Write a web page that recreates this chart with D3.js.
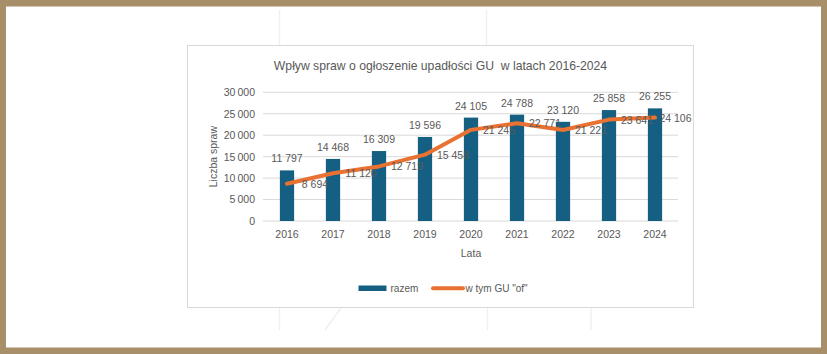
<!DOCTYPE html>
<html>
<head>
<meta charset="utf-8">
<script src="https://cdn.jsdelivr.net/npm/d3@7"></script>
<style>
  html, body { margin: 0; padding: 0; background: #a68f69; }
  svg { display: block; }
  text { font-family: "Liberation Sans", Arial, sans-serif; fill: #595959; }
</style>
</head>
<body>
<div id="chart"></div>
<script>
// Data
const years = ["2016", "2017", "2018", "2019", "2020", "2021", "2022", "2023", "2024"];
const razem = [11797, 14468, 16309, 19596, 24105, 24788, 23120, 25858, 26255];
const wTymGU = [8694, 11120, 12719, 15458, 21245, 22771, 21221, 23641, 24106];
const yTicks = [0, 5000, 10000, 15000, 20000, 25000, 30000];

const W = 827, H = 354;
const box = { x: 187.5, y: 45.5, w: 506, h: 262 };
const plot = { left: 264, right: 678, top: 92.3, bottom: 221 };

const pl = d3.formatLocale({ decimal: ",", thousands: "\u2009", grouping: [3], currency: ["", " zł"] });
const fmt = pl.format(",d");
const fmtLabel = d3.formatLocale({ decimal: ",", thousands: " ", grouping: [3], currency: ["", ""] }).format(",d");

const svg = d3.select("#chart").append("svg")
    .attr("width", W)
    .attr("height", H);

// white page inside the tan frame
svg.append("rect")
    .attr("x", 6).attr("y", 6.5)
    .attr("width", W - 12).attr("height", 341)
    .attr("fill", "#ffffff");

// faint lines of the slide behind the chart
const faint = svg.append("g").attr("stroke", "#f0f0f0").attr("stroke-width", 1.5).attr("fill", "none");
[[279.5, 10, 279.5, 45], [486.5, 10, 486.5, 45],
 [279.5, 307, 279.5, 330], [487.5, 307, 487.5, 330], [591, 307, 591, 330],
 [325, 330, 341, 308]].forEach(l => {
    faint.append("line").attr("x1", l[0]).attr("y1", l[1]).attr("x2", l[2]).attr("y2", l[3]);
});

// chart box
svg.append("rect")
    .attr("x", box.x).attr("y", box.y)
    .attr("width", box.w).attr("height", box.h)
    .attr("fill", "#ffffff")
    .attr("stroke", "#d9d9d9")
    .attr("stroke-width", 1);

const x = d3.scaleBand()
    .domain(years)
    .range([plot.left, plot.right])
    .paddingInner(0.69)
    .paddingOuter(0.345);

const y = d3.scaleLinear()
    .domain([0, 30000])
    .range([plot.bottom, plot.top]);

// gridlines
svg.append("g")
    .selectAll("line")
    .data(yTicks)
    .join("line")
    .attr("x1", plot.left - 1).attr("x2", plot.right)
    .attr("y1", d => y(d)).attr("y2", d => y(d))
    .attr("stroke", "#d9d9d9")
    .attr("stroke-width", 1);

// y axis labels
const yAxis = d3.axisLeft(y).tickValues(yTicks).tickFormat(fmt).tickSize(0).tickPadding(0);
const gy = svg.append("g")
    .attr("transform", `translate(${plot.left - 9},0)`)
    .call(yAxis);
gy.select(".domain").remove();
gy.selectAll("text")
    .attr("font-size", 10.5)
    .attr("font-family", "Liberation Sans, Arial, sans-serif")
    .attr("fill", "#595959");

// x axis labels
const xAxis = d3.axisBottom(x).tickSize(0).tickPadding(0);
const gx = svg.append("g")
    .attr("transform", `translate(0,${plot.bottom + 10})`)
    .call(xAxis);
gx.select(".domain").remove();
gx.selectAll("text")
    .attr("font-size", 10.5)
    .attr("font-family", "Liberation Sans, Arial, sans-serif")
    .attr("fill", "#595959");

// bars
svg.append("g")
    .selectAll("rect")
    .data(razem)
    .join("rect")
    .attr("x", (d, i) => x(years[i]))
    .attr("y", d => y(d))
    .attr("width", x.bandwidth())
    .attr("height", d => y(0) - y(d))
    .attr("fill", "#156082");

// bar labels
svg.append("g")
    .selectAll("text")
    .data(razem)
    .join("text")
    .attr("x", (d, i) => x(years[i]) + x.bandwidth() / 2)
    .attr("y", d => y(d) - 8)
    .attr("text-anchor", "middle")
    .attr("font-size", 10.5)
    .text(d => fmtLabel(d));

// line
const cx = i => x(years[i]) + x.bandwidth() / 2;
const line = d3.line()
    .x((d, i) => cx(i))
    .y(d => y(d));

svg.append("path")
    .datum(wTymGU)
    .attr("d", line)
    .attr("fill", "none")
    .attr("stroke", "#e97132")
    .attr("stroke-width", 4)
    .attr("stroke-linejoin", "round")
    .attr("stroke-linecap", "round");

// line labels, to the right of each point
svg.append("g")
    .selectAll("text")
    .data(wTymGU)
    .join("text")
    .attr("x", (d, i) => i === wTymGU.length - 1 ? cx(i) + 20.5 : cx(i) + 28)
    .attr("y", d => y(d) + 4)
    .attr("text-anchor", "middle")
    .attr("font-size", 10.5)
    .text(d => fmtLabel(d));

// title
svg.append("text")
    .attr("x", box.x + box.w / 2)
    .attr("y", 70)
    .attr("text-anchor", "middle")
    .attr("font-size", 12.2)
    .attr("xml:space", "preserve")
    .text("Wpływ spraw o ogłoszenie upadłości GU  w latach 2016-2024");

// axis titles
svg.append("text")
    .attr("x", (plot.left + plot.right) / 2)
    .attr("y", 257)
    .attr("text-anchor", "middle")
    .attr("font-size", 10.5)
    .text("Lata");

svg.append("text")
    .attr("transform", `translate(217,${(plot.top + plot.bottom) / 2}) rotate(-90)`)
    .attr("text-anchor", "middle")
    .attr("font-size", 10.5)
    .text("Liczba spraw");

// legend
const lg = svg.append("g");
lg.append("rect")
    .attr("x", 358.5).attr("y", 285.5)
    .attr("width", 28).attr("height", 5.5)
    .attr("fill", "#156082");
lg.append("text")
    .attr("x", 390.5).attr("y", 292)
    .attr("font-size", 10)
    .text("razem");
lg.append("line")
    .attr("x1", 433).attr("x2", 463)
    .attr("y1", 288.3).attr("y2", 288.3)
    .attr("stroke", "#e97132")
    .attr("stroke-width", 4)
    .attr("stroke-linecap", "round");
lg.append("text")
    .attr("x", 465.5).attr("y", 292)
    .attr("font-size", 10)
    .text("w tym GU \"of\"");
</script>
</body>
</html>
